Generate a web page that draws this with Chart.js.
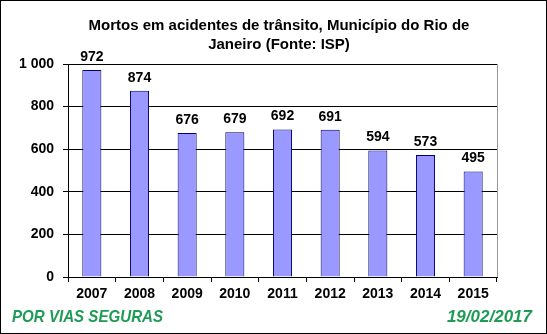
<!DOCTYPE html>
<html>
<head>
<meta charset="utf-8">
<script src="https://cdn.jsdelivr.net/npm/chart.js@4/dist/chart.umd.min.js"></script>
<style>
  html, body { margin: 0; padding: 0; background: #fff; }
  #wrap { width: 547px; height: 334px; position: relative; }
</style>
</head>
<body>
<div id="wrap"><canvas id="chart" width="547" height="334"></canvas></div>
<script>
// Données
const years = ['2007', '2008', '2009', '2010', '2011', '2012', '2013', '2014', '2015'];
const deaths = [972, 874, 676, 679, 692, 691, 594, 573, 495];
const titleLines = ['Mortos em acidentes de trânsito, Município do Rio de', 'Janeiro (Fonte: ISP)'];
const footerLeft = 'POR VIAS SEGURAS';
const footerRight = '19/02/2017';

const FONT = '"Liberation Sans", Arial, sans-serif';

// titre, valeurs au-dessus des barres, cadre, pied de page
const extras = {
    id: 'extras',
    afterDatasetsDraw(chart) {
        const ctx = chart.ctx;
        const area = chart.chartArea;
        ctx.save();
        // bord droit gris de la zone
        ctx.strokeStyle = '#999';
        ctx.lineWidth = 1;
        ctx.beginPath();
        ctx.moveTo(Math.round(area.right) + 0.5, area.top);
        ctx.lineTo(Math.round(area.right) + 0.5, area.bottom);
        ctx.stroke();

        // titre
        ctx.font = 'bold 15px ' + FONT;
        ctx.fillStyle = '#000';
        ctx.textAlign = 'center';
        ctx.textBaseline = 'alphabetic';
        ctx.fillText(titleLines[0], 279, 30);
        ctx.fillText(titleLines[1], 279, 49);

        ctx.font = 'bold 14px ' + FONT;
        ctx.textBaseline = 'bottom';
        chart.getDatasetMeta(0).data.forEach((bar, i) => {
            ctx.fillText(deaths[i], bar.x, bar.y - 6);
        });

        ctx.font = 'italic bold 17px ' + FONT;
        ctx.fillStyle = '#1E9B55';
        ctx.textBaseline = 'alphabetic';
        ctx.textAlign = 'left';
        ctx.fillText(footerLeft, 12, 322, 151);
        ctx.textAlign = 'right';
        ctx.fillText(footerRight, 532, 322, 94);

        ctx.strokeStyle = '#000';
        ctx.strokeRect(0.5, 0.5, 546, 333);
        ctx.restore();
    }
};

new Chart(document.getElementById('chart'), {
    type: 'bar',
    data: {
        labels: years,
        datasets: [{
            data: deaths,
            backgroundColor: '#9999FF',
            borderColor: '#000066',
            borderWidth: 1,
            categoryPercentage: 1,
            barPercentage: 0.4
        }]
    },
    options: {
        responsive: false,
        animation: false,
        layout: { padding: { left: 0, right: 50, top: 64, bottom: 30 } },
        plugins: {
            legend: { display: false },
            tooltip: { enabled: false },
            title: { display: false }
        },
        scales: {
            x: {
                offset: true,
                grid: { display: true, drawOnChartArea: false, color: '#000', tickLength: 5, offset: true },
                border: { color: '#000' },
                ticks: { color: '#000', font: { family: FONT, size: 14, weight: 'bold' }, padding: 4 },
                afterFit(scale) { scale.height = 27; }
            },
            y: {
                min: 0,
                max: 1000,
                ticks: {
                    stepSize: 200,
                    color: '#000',
                    font: { family: FONT, size: 14, weight: 'bold' },
                    padding: 9,
                    callback: v => v >= 1000 ? String(v).replace(/(\d)(\d{3})$/, '$1 $2') : v
                },
                grid: { color: '#000', tickLength: 5 },
                border: { color: '#000' },
                afterFit(scale) { scale.width = 68; }
            }
        }
    },
    plugins: [extras]
});
</script>
</body>
</html>
